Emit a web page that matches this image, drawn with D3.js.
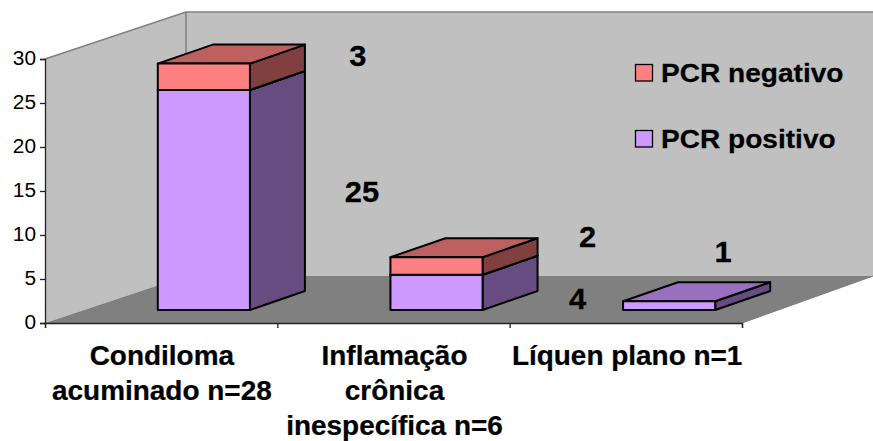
<!DOCTYPE html>
<html><head><meta charset="utf-8">
<script src="https://cdnjs.cloudflare.com/ajax/libs/d3/7.8.5/d3.min.js"></script>
<style>html,body{margin:0;background:#fff}svg{display:block}text{font-family:"Liberation Sans",Arial,sans-serif;fill:#000}</style>
</head><body><svg id="c" width="873" height="441"></svg>
<script>
const categories = [["Condiloma","acuminado n=28"],["Inflamação","crônica","inespecífica n=6"],["Líquen plano n=1"]];
const categoryKeys = ["a","b","c"];
const seriesNames = ["PCR positivo","PCR negativo"];
const positivo = [25,4,1];
const negativo = [3,2,0];
const labelPositivo = ["25","4",""];
const labelNegativo = ["3","2","1"];
const yTicks = [0,5,10,15,20,25,30];

const front = {pos:"#CC99FF",neg:"#FF8080"};
const side = {pos:"#664C80",neg:"#804040"};
const top_ = {pos:"#9970BF",neg:"#BF6060"};

const svg = d3.select("#c");
const W = 873;
const x = d3.scaleBand().domain(categoryKeys).range([45,742]).paddingInner(0.604).paddingOuter(0.3);
const y = d3.scaleLinear().domain([0,30]).range([323,59]);
const depth = {x:141,y:-47};
const y0 = y(0), yT = y(30);

// walls and floor
const poly = (pts,fill)=>svg.append("polygon").attr("points",pts.map(p=>p.join(",")).join(" ")).attr("fill",fill);
const backX = x.range()[0]+depth.x, backBase = y0+depth.y, backTop = yT+depth.y;
poly([[backX,backTop],[W,backTop],[W,backBase],[backX,backBase]],"#C0C0C0");
poly([[45,yT],[backX,backTop],[backX,backBase],[45,y0]],"#C0C0C0");
poly([[45,y0],[backX,backBase],[W+1,backBase],[742,y0]],"#808080");
svg.append("path").attr("d",`M45,${yT}L${backX},${backTop}L${W},${backTop}M${backX},${backTop}V${backBase}`).attr("fill","none").attr("stroke","#808080").attr("stroke-width",1.5);
svg.append("path").attr("d",`M742,${y0}L${W},${backBase}`).attr("fill","none").attr("stroke","#808080").attr("stroke-width",1);

// bars
const shift = {x:43,y:-13};       // bar front face sits this far into the floor
const bd = {x:55,y:-19};          // bar depth
const box = (k,a,b,key)=>{
  if(b<=a) return;
  const l = x(k)+shift.x, r = l+x.bandwidth();
  const yb = y(a)+shift.y, yt = y(b)+shift.y;
  const g = svg.append("g").attr("stroke","#000").attr("stroke-width",2).attr("stroke-linejoin","round");
  g.append("polygon").attr("fill",side[key]).attr("points",[[r,yb],[r+bd.x,yb+bd.y],[r+bd.x,yt+bd.y],[r,yt]].join(" "));
  g.append("polygon").attr("fill",top_[key]).attr("points",[[l,yt],[l+bd.x,yt+bd.y],[r+bd.x,yt+bd.y],[r,yt]].join(" "));
  g.append("rect").attr("fill",front[key]).attr("x",l).attr("y",yt).attr("width",r-l).attr("height",yb-yt);
};
categoryKeys.forEach((k,i)=>{
  box(k,0,positivo[i],"pos");
  box(k,positivo[i],positivo[i]+negativo[i],"neg");
});

// axes
const tickStretch = 1.07;
const yAxis = d3.axisLeft(y).tickValues(yTicks).tickSize(5).tickPadding(3).tickFormat(d3.format("d"));
const gy = svg.append("g").attr("transform","translate(45,0)").call(yAxis);
gy.selectAll("text").attr("font-size",19.5).attr("x",-9/tickStretch).attr("dy","0.27em").attr("transform",`scale(${tickStretch},1)`).style("font-family",'"Liberation Sans",Arial,sans-serif');
gy.selectAll("line,path").attr("stroke","#222").attr("stroke-width",1.3);
const xAxis = d3.axisBottom(d3.scaleLinear().domain([0,3]).range([45,742])).tickValues([0,1,2,3]).tickSize(5).tickFormat("");
const gx = svg.append("g").attr("transform",`translate(0,${y0})`).call(xAxis);
gx.selectAll("line,path").attr("stroke","#222").attr("stroke-width",1.3);

// slightly stretched bold text
const label = (px,py,t,size,stretch,anchor)=>svg.append("text").attr("transform",`translate(${px},${py}) scale(${stretch},1)`)
  .attr("text-anchor",anchor||"middle").attr("font-size",size).attr("font-weight","bold")
  .attr("stroke","#000").attr("stroke-width",0.25).text(t);

// category labels
categories.forEach((lines,i)=>{
  const cx = x(categoryKeys[i])+x.bandwidth()/2;
  lines.forEach((t,j)=>label(cx+1,364.5+j*35.3,t,27,1.035));
});

// data labels: hand-placed in the original, offsets from each bar's right edge and a value height
const lbl = (i,t,dx,v)=>{ if(t) label(x(categoryKeys[i])+x.bandwidth()+dx,y(v),t,30,1.03); };
lbl(0,labelNegativo[0],151,29.2);
lbl(0,labelPositivo[0],155,13.75);
lbl(1,labelNegativo[1],148,8.64);
lbl(1,labelPositivo[1],138,1.6);
lbl(2,labelNegativo[2],51,6.93);

// legend
[["neg",seriesNames[1],82],["pos",seriesNames[0],148]].forEach(([k,t,ly])=>{
  svg.append("rect").attr("x",635.5).attr("y",ly-17.5).attr("width",17).attr("height",16.5).attr("fill",front[k]).attr("stroke","#000").attr("stroke-width",1.3);
  label(661,ly,t,26,1.08,"start");
});
</script></body></html>
